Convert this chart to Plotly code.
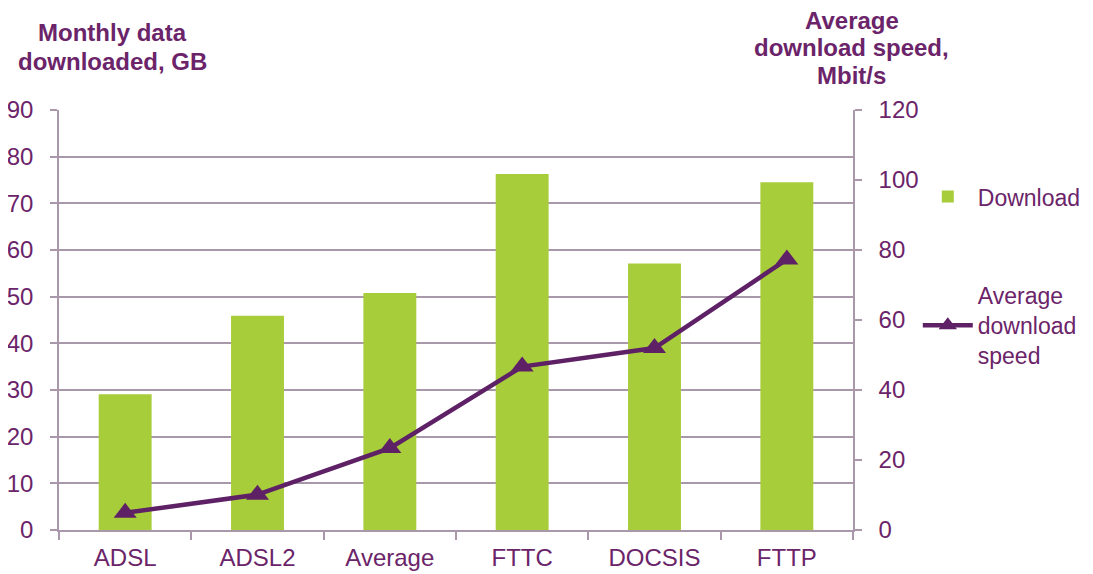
import plotly.graph_objects as go

categories = ["ADSL", "ADSL2", "Average", "FTTC", "DOCSIS", "FTTP"]
download_gb = [29.1, 45.9, 50.8, 76.3, 57.1, 74.5]
speed_mbit = [4.9, 10.1, 23.4, 46.7, 52.0, 77.3]

left_title_lines = ["Monthly data", "downloaded, GB"]
right_title_lines = ["Average", "download speed,", "Mbit/s"]

PURPLE = "#6b2469"
LINE = "#5e2166"
GREEN = "#a8cd3a"
GRID = "#a898a9"
FONT = "Liberation Sans, Arial, sans-serif"
FS = 24

fig = go.Figure()
fig.add_trace(go.Bar(
    x=categories, y=download_gb, name="Download",
    marker=dict(color=GREEN, line=dict(width=0)),
    legendgroup="a",
))
fig.add_trace(go.Scatter(
    x=categories, y=speed_mbit, name="Average<br>download<br>speed",
    mode="lines+markers", yaxis="y2",
    line=dict(color=LINE, width=4.5),
    marker=dict(symbol="triangle-up", size=20, color=LINE),
    legendgroup="b",
))

annotations = []
for txt, yp in zip(left_title_lines, [1.1857, 1.1143]):
    annotations.append(dict(text=f"<b>{txt}</b>", xref="paper", yref="paper",
                            x=0.068, y=yp, xanchor="center", yanchor="middle",
                            showarrow=False, font=dict(size=FS, color=PURPLE)))
for txt, yp in zip(right_title_lines, [1.214, 1.15, 1.0833]):
    annotations.append(dict(text=f"<b>{txt}</b>", xref="paper", yref="paper",
                            x=0.9987, y=yp, xanchor="center", yanchor="middle",
                            showarrow=False, font=dict(size=FS, color=PURPLE)))

# page body has an 8px default margin, so the figure is sized/offset to compensate
fig.update_layout(
    width=1085, height=566,
    margin=dict(l=51, r=240, t=102, b=44, autoexpand=False),
    paper_bgcolor="white", plot_bgcolor="white",
    font=dict(family=FONT, size=FS, color=PURPLE),
    bargap=0.6,
    xaxis=dict(
        type="category", showline=True, linecolor=GRID, linewidth=1.5,
        ticks="outside", tickson="boundaries", ticklen=8, tickcolor=GRID, tickwidth=1.5,
        showgrid=False, tickfont=dict(size=FS, color=PURPLE), ticklabelstandoff=5,
        automargin=False,
    ),
    yaxis=dict(
        range=[0, 90], dtick=10, showline=True, linecolor=GRID, linewidth=1.5,
        ticks="outside", ticklen=7, tickcolor=GRID, tickwidth=1.5,
        showgrid=True, gridcolor=GRID, gridwidth=1.5, zeroline=False,
        tickfont=dict(size=FS, color=PURPLE), ticklabelstandoff=12, automargin=False,
    ),
    yaxis2=dict(
        range=[0, 120], dtick=20, overlaying="y", side="right",
        showline=True, linecolor=GRID, linewidth=1.5,
        ticks="outside", ticklen=7, tickcolor=GRID, tickwidth=1.5,
        showgrid=False, zeroline=False,
        tickfont=dict(size=FS, color=PURPLE), ticklabelstandoff=12, automargin=False,
    ),
    legend=dict(
        x=1.0816, y=0.845, xanchor="left", yanchor="top",
        font=dict(size=23, color=PURPLE), itemwidth=50,
        traceorder="grouped", tracegroupgap=66, bgcolor="rgba(0,0,0,0)",
    ),
    annotations=annotations,
)

fig.write_html("out.html")
